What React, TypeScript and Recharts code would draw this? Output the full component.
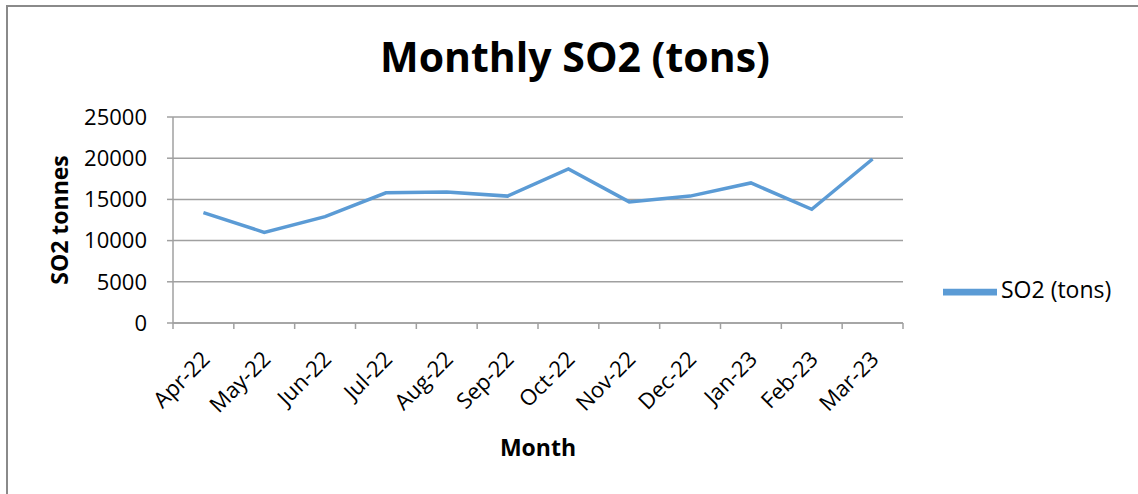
import React from 'react'
import { Label, Legend, Line, LineChart, XAxis, YAxis, CartesianGrid } from 'recharts'

const months = ['Apr-22', 'May-22', 'Jun-22', 'Jul-22', 'Aug-22', 'Sep-22', 'Oct-22', 'Nov-22', 'Dec-22', 'Jan-23', 'Feb-23', 'Mar-23']
const so2 = [13400, 11000, 12900, 15800, 15900, 15400, 18700, 14700, 15400, 17000, 13800, 19900]
const yTicks = [0, 5000, 10000, 15000, 20000, 25000]

// points sit in the middle of each category band, ticks on the band edges (Excel style)
const data = months.map((m, i) => ({ month: m, pos: i + 0.5, so2: so2[i] }))
const edges = months.map((_, i) => i).concat(months.length)
const centers = months.map((_, i) => i + 0.5)

const FONT = '"Open Sans", sans-serif'
const GRID = '#a0a0a0'
const BLUE = '#5b9bd5'

const MonthTick = (props: any) => {
  const { x, y, payload } = props
  const label = months[Math.floor(payload.value)]
  return (
    <g transform={`translate(${x - 4},${y}) rotate(-45)`}>
      <text x={0} y={0} dy='0.75em' textAnchor='end' fontSize={22} fontFamily={FONT} fill='#000'>
        {label}
      </text>
    </g>
  )
}

const NoTick = () => <g />

const App = () => {
  return (
    <div style={{ position: 'absolute', left: 0, top: 0, width: 1138, height: 494, background: '#fff', overflow: 'hidden' }}>
      <div style={{ position: 'absolute', left: 6, top: 5, width: 1200, height: 600, border: '2px solid #8a8a8a' }} />
      <div
        style={{
          position: 'absolute',
          left: 0,
          width: 1150,
          top: 26,
          textAlign: 'center',
          fontFamily: FONT,
          fontWeight: 700,
          fontSize: 41,
          lineHeight: '60px',
        }}
      >
        Monthly SO2 (tons)
      </div>
      <div style={{ position: 'absolute', left: 0, top: 0 }}>
        <LineChart width={1138} height={494} data={data} margin={{ top: 117, right: 45, bottom: 0, left: 0 }}>
          <CartesianGrid vertical={false} stroke={GRID} strokeWidth={1.5} />
          <XAxis
            xAxisId='band'
            type='number'
            dataKey='pos'
            domain={[0, months.length]}
            ticks={edges}
            tick={<NoTick />}
            tickSize={6}
            tickLine={{ stroke: GRID, strokeWidth: 1.5 }}
            axisLine={{ stroke: GRID, strokeWidth: 1.5 }}
            height={1}
          />
          <XAxis
            xAxisId='labels'
            type='number'
            dataKey='pos'
            domain={[0, months.length]}
            ticks={centers}
            tick={<MonthTick />}
            tickLine={false}
            axisLine={false}
            tickSize={0}
            tickMargin={25}
            height={170}
          >
            <Label
              value='Month'
              position='insideBottom'
              offset={38}
              style={{ fontFamily: FONT, fontWeight: 700, fontSize: 23, fill: '#000' }}
            />
          </XAxis>
          <YAxis
            domain={[0, 25000]}
            ticks={yTicks}
            width={173}
            tickSize={6}
            tickMargin={20}
            tick={{ fontSize: 22, fontFamily: FONT, fill: '#000' }}
            tickLine={{ stroke: GRID, strokeWidth: 1.5 }}
            axisLine={{ stroke: GRID, strokeWidth: 1.5 }}
          >
            <Label
              value='SO2 tonnes'
              angle={-90}
              position='insideLeft'
              offset={60}
              style={{ fontFamily: FONT, fontWeight: 700, fontSize: 23, fill: '#000', textAnchor: 'middle' }}
            />
          </YAxis>
          <Legend
            layout='vertical'
            align='right'
            verticalAlign='top'
            iconType='plainline'
            iconSize={54}
            wrapperStyle={{ left: 943, top: 265, width: 190, fontFamily: FONT, fontSize: 23 }}
            formatter={(v: string) => <span style={{ color: '#000' }}>{v}</span>}
          />
          <Line
            xAxisId='band'
            type='linear'
            dataKey='so2'
            name='SO2 (tons)'
            stroke={BLUE}
            strokeWidth={3.5}
            dot={false}
            isAnimationActive={false}
          />
        </LineChart>
      </div>
    </div>
  )
}

export default App
